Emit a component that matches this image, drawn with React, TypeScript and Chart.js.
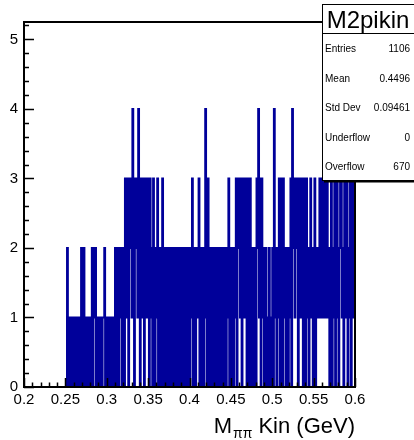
import React, { useEffect, useRef } from "react";
import { Chart, registerables } from "chart.js";

Chart.register(...registerables);

// Histogram binning (400 bins, 0.2 .. 0.6 GeV)
const xMin = 0.2;
const xMax = 0.6;
const binWidth = 0.001;

// Bin contents, 10 bins per row (0.01 GeV per row)
const counts: number[] = [
  0, 0, 0, 0, 0, 0, 0, 0, 0, 0, // 0.20
  0, 0, 0, 0, 0, 0, 0, 0, 0, 0, // 0.21
  0, 0, 0, 0, 0, 0, 0, 0, 0, 0, // 0.22
  0, 0, 0, 0, 0, 0, 0, 0, 0, 0, // 0.23
  0, 0, 0, 0, 0, 0, 0, 0, 0, 0, // 0.24
  0, 0, 2, 1, 0, 1, 0, 1, 1, 0, // 0.25
  1, 0, 1, 0, 0, 1, 0, 1, 0, 2, // 0.26
  2, 0, 2, 1, 0, 1, 0, 0, 1, 0, // 0.27
  1, 0, 2, 0, 2, 1, 2, 0, 1, 0, // 0.28
  1, 0, 1, 0, 0, 1, 1, 2, 0, 1, // 0.29
  0, 1, 0, 1, 0, 1, 0, 1, 1, 0, // 0.30
  2, 0, 1, 2, 0, 2, 1, 2, 0, 2, // 0.31
  2, 0, 3, 1, 2, 3, 0, 3, 2, 3, // 0.32
  1, 4, 2, 0, 3, 2, 3, 1, 4, 2, // 0.33
  0, 3, 2, 1, 3, 0, 2, 3, 1, 3, // 0.34
  2, 0, 3, 1, 2, 0, 3, 2, 0, 2, // 0.35
  1, 3, 0, 2, 1, 0, 2, 3, 0, 2, // 0.36
  0, 2, 1, 0, 2, 0, 1, 2, 0, 1, // 0.37
  2, 0, 1, 2, 0, 2, 1, 0, 2, 0, // 0.38
  1, 2, 0, 1, 2, 0, 2, 1, 0, 2, // 0.39
  0, 2, 1, 3, 0, 2, 1, 0, 2, 1, // 0.40
  2, 3, 0, 2, 1, 0, 2, 0, 1, 4, // 0.41
  2, 0, 3, 1, 0, 2, 1, 0, 2, 0, // 0.42
  1, 2, 0, 1, 2, 0, 1, 2, 0, 1, // 0.43
  2, 0, 1, 2, 0, 1, 2, 3, 0, 2, // 0.44
  0, 1, 2, 0, 2, 1, 3, 0, 3, 2, // 0.45
  3, 1, 3, 0, 2, 3, 1, 3, 2, 0, // 0.46
  3, 0, 2, 3, 0, 1, 2, 0, 1, 2, // 0.47
  0, 3, 2, 4, 1, 3, 0, 3, 1, 2, // 0.48
  0, 1, 2, 0, 1, 0, 2, 1, 0, 1, // 0.49
  2, 0, 4, 1, 2, 0, 2, 1, 3, 0, // 0.50
  3, 2, 0, 3, 1, 2, 0, 1, 2, 0, // 0.51
  1, 2, 3, 0, 4, 2, 3, 1, 3, 2, // 0.52
  3, 0, 2, 3, 1, 2, 3, 0, 2, 3, // 0.53
  0, 3, 1, 2, 0, 2, 3, 1, 2, 0, // 0.54
  2, 3, 0, 1, 2, 2, 1, 3, 2, 1, // 0.55
  3, 2, 1, 3, 2, 1, 3, 2, 1, 0, // 0.56
  2, 3, 0, 2, 1, 3, 0, 2, 3, 1, // 0.57
  0, 2, 3, 5, 1, 2, 0, 3, 2, 1, // 0.58
  3, 0, 2, 1, 3, 0, 2, 3, 1, 2, // 0.59
];

const xTickValues = [0.2, 0.25, 0.3, 0.35, 0.4, 0.45, 0.5, 0.55, 0.6];
const xTickLabels = ["0.2", "0.25", "0.3", "0.35", "0.4", "0.45", "0.5", "0.55", "0.6"];
const yTickValues = [0, 1, 2, 3, 4, 5];
const yTickLabels = ["0", "1", "2", "3", "4", "5"];
const yMax = 5.25;

const statsTitle = "M2pikin";
const statsNames = ["Entries", "Mean", "Std Dev", "Underflow", "Overflow"];
const statsValues = ["1106", "0.4496", "0.09461", "0", "670"];

const xTitleMain = "M";
const xTitleSub = "\u03c0\u03c0";
const xTitleRest = " Kin (GeV)";

const FONT = "'Liberation Sans', Arial, Helvetica, sans-serif";
const LINE_COLOR = "#00009a";

const rootPlugin = {
  id: "rootDecor",
  afterDatasetsDraw(chart: any) {
    const ctx = chart.ctx as CanvasRenderingContext2D;
    const xs = chart.scales.x;
    const ys = chart.scales.y;
    const l = xs.getPixelForValue(xMin);
    const r = xs.getPixelForValue(xMax);
    const b = ys.getPixelForValue(0);
    const t = ys.getPixelForValue(yMax);
    ctx.save();
    ctx.strokeStyle = "#000";
    ctx.lineWidth = 2;
    ctx.strokeRect(l, t, r - l, b - t);
    ctx.lineWidth = 1.5;
    ctx.beginPath();
    // x ticks (major 0.05, minor 0.01) pointing up
    for (let k = 0; k <= 40; k++) {
      const v = xMin + k * 0.01;
      const px = Math.round(xs.getPixelForValue(v)) + 0.5;
      const len = k % 5 === 0 ? 9 : 4.5;
      ctx.moveTo(px, b);
      ctx.lineTo(px, b - len);
    }
    // y ticks (major 1, minor 0.2) pointing right
    for (let k = 0; k * 0.2 <= yMax + 1e-9; k++) {
      const v = k * 0.2;
      const py = Math.round(ys.getPixelForValue(v)) + 0.5;
      const len = k % 5 === 0 ? 10 : 5;
      ctx.moveTo(l, py);
      ctx.lineTo(l + len, py);
    }
    ctx.stroke();
    ctx.restore();
  },
  afterDraw(chart: any) {
    const ctx = chart.ctx as CanvasRenderingContext2D;
    const xs = chart.scales.x;
    const r = xs.getPixelForValue(xMax);
    ctx.save();
    // x axis title, right aligned to the frame
    ctx.fillStyle = "#000";
    ctx.textBaseline = "alphabetic";
    const baseY = 433;
    const big = `22px ${FONT}`;
    const small = `14px ${FONT}`;
    ctx.font = big;
    const wRest = ctx.measureText(xTitleRest).width;
    const wMain = ctx.measureText(xTitleMain).width;
    ctx.font = small;
    const wSub = ctx.measureText(xTitleSub).width;
    const x0 = r - wRest - wSub - wMain - 1;
    ctx.font = big;
    ctx.textAlign = "left";
    ctx.fillText(xTitleMain, x0, baseY);
    ctx.font = small;
    ctx.fillText(xTitleSub, x0 + wMain + 1, baseY + 5);
    ctx.font = big;
    ctx.fillText(xTitleRest, x0 + wMain + wSub + 1, baseY);

    // stats box
    const bx = 322, by = 4.5, bw = 100, bh = 176;
    ctx.fillStyle = "#fff";
    ctx.fillRect(bx, by, bw, bh);
    ctx.fillStyle = "#000";
    ctx.fillRect(bx + 2, by + bh, bw, 2);
    ctx.strokeStyle = "#000";
    ctx.lineWidth = 1;
    ctx.strokeRect(bx + 0.5, by, bw, bh);
    ctx.beginPath();
    ctx.moveTo(bx, 33.5);
    ctx.lineTo(bx + bw, 33.5);
    ctx.stroke();
    ctx.font = `24px ${FONT}`;
    ctx.textAlign = "center";
    ctx.fillText(statsTitle, 368, 28);
    ctx.font = `10px ${FONT}`;
    ctx.textBaseline = "middle";
    for (let i = 0; i < statsNames.length; i++) {
      const yy = 49.5 + i * 29.5;
      ctx.textAlign = "left";
      ctx.fillText(statsNames[i], 325, yy);
      ctx.textAlign = "right";
      ctx.fillText(statsValues[i], 410, yy);
    }
    ctx.restore();
  },
};

export default function App() {
  const ref = useRef<HTMLCanvasElement | null>(null);
  useEffect(() => {
    if (!ref.current) return;
    const points = counts.map((c, i) => ({ x: xMin + i * binWidth, y: c }));
    points.push({ x: xMax, y: counts[counts.length - 1] });
    const chart = new Chart(ref.current, {
      type: "line",
      data: {
        datasets: [
          {
            data: points,
            stepped: "before",
            borderColor: LINE_COLOR,
            borderWidth: 2,
            pointRadius: 0,
            fill: false,
            tension: 0,
          } as any,
        ],
      },
      options: {
        responsive: false,
        animation: false,
        events: [],
        layout: { padding: { left: 0, top: 22, right: 59, bottom: 0 } },
        plugins: { legend: { display: false }, tooltip: { enabled: false }, title: { display: false } },
        scales: {
          x: {
            type: "linear",
            min: xMin,
            max: xMax,
            grid: { display: false, drawTicks: false, tickLength: 0 },
            border: { display: false },
            afterFit: (s: any) => { s.height = 53; },
            afterBuildTicks: (s: any) => { s.ticks = xTickValues.map((v) => ({ value: v })); },
            ticks: {
              autoSkip: false,
              maxRotation: 0,
              padding: 4,
              color: "#000",
              font: { family: FONT, size: 15 },
              callback: (_v: any, i: number) => xTickLabels[i],
            },
          },
          y: {
            type: "linear",
            min: 0,
            max: yMax,
            grid: { display: false, drawTicks: false, tickLength: 0 },
            border: { display: false },
            afterFit: (s: any) => { s.width = 24; },
            afterBuildTicks: (s: any) => { s.ticks = yTickValues.map((v) => ({ value: v })); },
            ticks: {
              autoSkip: false,
              padding: 6,
              color: "#000",
              font: { family: FONT, size: 15 },
              callback: (_v: any, i: number) => yTickLabels[i],
            },
          },
        },
      },
      plugins: [rootPlugin],
    });
    return () => chart.destroy();
  }, []);
  return (
    <canvas
      ref={ref}
      width={414}
      height={440}
      style={{ position: "absolute", left: 0, top: 0, width: 414, height: 440 }}
    />
  );
}
